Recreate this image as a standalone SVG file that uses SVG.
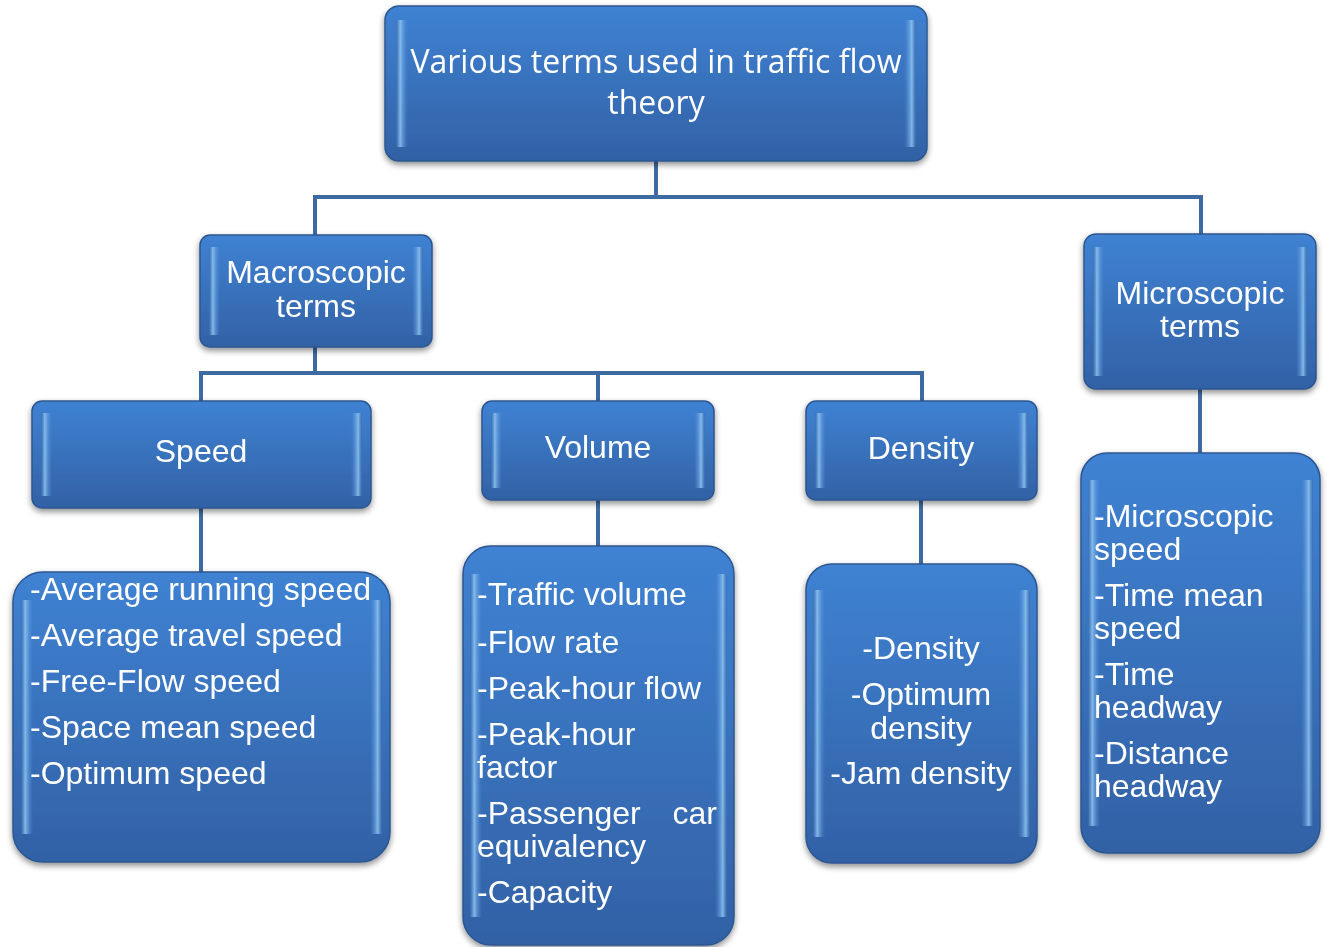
<svg xmlns="http://www.w3.org/2000/svg" width="1327" height="947" viewBox="0 0 1327 947">
<defs>
<linearGradient id="fillG" x1="0" y1="0" x2="0" y2="1">
<stop offset="0" stop-color="#3f82d3"/>
<stop offset="1" stop-color="#3261a5"/>
</linearGradient>
<linearGradient id="edgeL" x1="0" y1="0" x2="1" y2="0">
<stop offset="0" stop-color="#3568ab" stop-opacity="0.6"/>
<stop offset="0.35" stop-color="#8cc2f0" stop-opacity="0.9"/>
<stop offset="1" stop-color="#4c8ad6" stop-opacity="0"/>
</linearGradient>
<linearGradient id="edgeR" x1="0" y1="0" x2="1" y2="0">
<stop offset="0" stop-color="#4c8ad6" stop-opacity="0"/>
<stop offset="0.65" stop-color="#8cc2f0" stop-opacity="0.9"/>
<stop offset="1" stop-color="#3568ab" stop-opacity="0.6"/>
</linearGradient>
<filter id="sh" x="-10%" y="-10%" width="120%" height="125%">
<feGaussianBlur in="SourceAlpha" stdDeviation="3"/>
<feOffset dx="0" dy="3" result="b"/>
<feComponentTransfer><feFuncA type="linear" slope="0.45"/></feComponentTransfer>
<feMerge><feMergeNode/><feMergeNode in="SourceGraphic"/></feMerge>
</filter>
</defs>
<style>
.box{fill:url(#fillG);stroke:#2c5790;stroke-width:1.5}
.el{fill:url(#edgeL)}
.er{fill:url(#edgeR)}
.t{font-family:"Liberation Sans",Arial,sans-serif;font-size:32px;fill:#ffffff}
.c{text-anchor:middle}
.title{font-family:"Open Sans","Liberation Sans",sans-serif;font-size:32px;fill:#ffffff;text-anchor:middle}
.conn{fill:none;stroke:#3e6aa3;stroke-width:4}
</style>
<rect width="1327" height="947" fill="#ffffff"/>

<g id="connectors">
<path class="conn" d="M656 161 V197 M315 197 H1201 M315 195 V235 M1201 195 V234"/>
<path class="conn" d="M315 347 V373 M201 373 H922 M201 371 V401 M598 371 V401 M922 371 V401"/>
<path class="conn" d="M1200 389 V453"/>
<path class="conn" d="M201 508 V572"/>
<path class="conn" d="M598 500 V546"/>
<path class="conn" d="M921 500 V564"/>
</g>

<g id="root" filter="url(#sh)">
<rect class="box" x="385" y="6" width="542" height="155" rx="14"/>
<rect class="el" x="396" y="20" width="12" height="127"/>
<rect class="er" x="904" y="20" width="12" height="127"/>
<text class="title" x="656" y="73">Various terms used in traffic flow</text>
<text class="title" x="656" y="114">theory</text>
</g>

<g id="macro" filter="url(#sh)">
<rect class="box" x="200" y="235" width="232" height="112" rx="10"/>
<rect class="el" x="209" y="247" width="11" height="88"/>
<rect class="er" x="412" y="247" width="11" height="88"/>
<text class="t c" x="316" y="283">Macroscopic</text>
<text class="t c" x="316" y="317">terms</text>
</g>

<g id="micro" filter="url(#sh)">
<rect class="box" x="1084" y="234" width="232" height="155" rx="12"/>
<rect class="el" x="1093" y="247" width="11" height="129"/>
<rect class="er" x="1296" y="247" width="11" height="129"/>
<text class="t c" x="1200" y="304">Microscopic</text>
<text class="t c" x="1200" y="337">terms</text>
</g>

<g id="speed" filter="url(#sh)">
<rect class="box" x="32" y="401" width="339" height="107" rx="10"/>
<rect class="el" x="41" y="413" width="11" height="83"/>
<rect class="er" x="351" y="413" width="11" height="83"/>
<text class="t c" x="201" y="462">Speed</text>
</g>

<g id="volume" filter="url(#sh)">
<rect class="box" x="482" y="401" width="232" height="99" rx="10"/>
<rect class="el" x="491" y="413" width="11" height="75"/>
<rect class="er" x="694" y="413" width="11" height="75"/>
<text class="t c" x="598" y="458">Volume</text>
</g>

<g id="density" filter="url(#sh)">
<rect class="box" x="806" y="401" width="231" height="99" rx="10"/>
<rect class="el" x="815" y="413" width="11" height="75"/>
<rect class="er" x="1017" y="413" width="11" height="75"/>
<text class="t c" x="921" y="459">Density</text>
</g>

<g id="speed-list" filter="url(#sh)">
<rect class="box" x="13" y="572" width="377" height="290" rx="30"/>
<rect class="el" x="21" y="600" width="12" height="234"/>
<rect class="er" x="370" y="600" width="12" height="234"/>
<text class="t" x="30" y="600">-Average running speed</text>
<text class="t" x="30" y="646">-Average travel speed</text>
<text class="t" x="30" y="692">-Free-Flow speed</text>
<text class="t" x="30" y="738">-Space mean speed</text>
<text class="t" x="30" y="784">-Optimum speed</text>
</g>

<g id="volume-list" filter="url(#sh)">
<rect class="box" x="463" y="546" width="271" height="399" rx="28"/>
<rect class="el" x="470" y="574" width="12" height="343"/>
<rect class="er" x="715" y="574" width="12" height="343"/>
<text class="t" x="477" y="605">-Traffic volume</text>
<text class="t" x="477" y="653">-Flow rate</text>
<text class="t" x="477" y="699">-Peak-hour flow</text>
<text class="t" x="477" y="745">-Peak-hour</text>
<text class="t" x="477" y="778">factor</text>
<text class="t" x="477" y="824">-Passenger</text>
<text class="t" x="717" y="824" text-anchor="end">car</text>
<text class="t" x="477" y="857">equivalency</text>
<text class="t" x="477" y="903">-Capacity</text>
</g>

<g id="density-list" filter="url(#sh)">
<rect class="box" x="806" y="564" width="231" height="299" rx="26"/>
<rect class="el" x="813" y="590" width="12" height="247"/>
<rect class="er" x="1018" y="590" width="12" height="247"/>
<text class="t c" x="921" y="659">-Density</text>
<text class="t c" x="921" y="705">-Optimum</text>
<text class="t c" x="921" y="739">density</text>
<text class="t c" x="921" y="784">-Jam density</text>
</g>

<g id="micro-list" filter="url(#sh)">
<rect class="box" x="1081" y="453" width="239" height="400" rx="26"/>
<rect class="el" x="1088" y="480" width="12" height="346"/>
<rect class="er" x="1301" y="480" width="12" height="346"/>
<text class="t" x="1094" y="527">-Microscopic</text>
<text class="t" x="1094" y="560">speed</text>
<text class="t" x="1094" y="606">-Time mean</text>
<text class="t" x="1094" y="639">speed</text>
<text class="t" x="1094" y="685">-Time</text>
<text class="t" x="1094" y="718">headway</text>
<text class="t" x="1094" y="764">-Distance</text>
<text class="t" x="1094" y="797">headway</text>
</g>
</svg>
